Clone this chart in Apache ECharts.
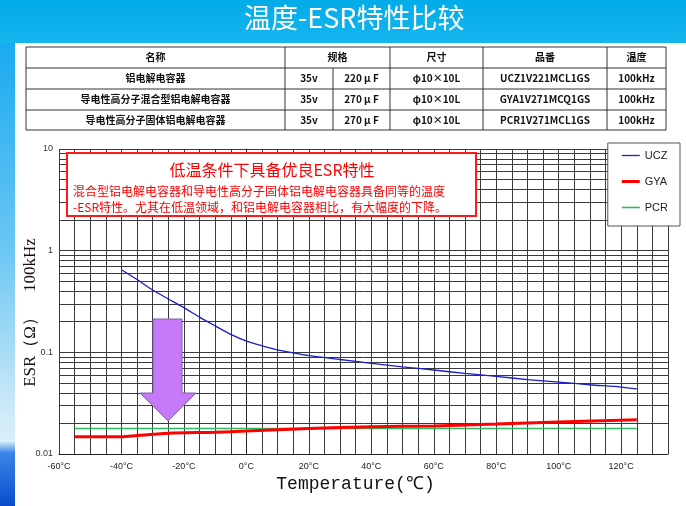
<!DOCTYPE html>
<html><head><meta charset="utf-8">
<script src="https://cdn.jsdelivr.net/npm/echarts@6/dist/echarts.min.js"></script>
<style>html,body{margin:0;padding:0;background:#fff;}#c{width:686px;height:506px;}</style>
</head><body><div id="c"></div>
<script>
// ---- data ----
const pageTitle = '温度-ESR特性比较';
const tableHeaders = ['名称', '规格', '尺寸', '品番', '温度'];
const tableRows = [
  ['铝电解电容器', '35v', '220 μ F', 'φ10×10L', 'UCZ1V221MCL1GS', '100kHz'],
  ['导电性高分子混合型铝电解电容器', '35v', '270 μ F', 'φ10×10L', 'GYA1V271MCQ1GS', '100kHz'],
  ['导电性高分子固体铝电解电容器', '35v', '270 μ F', 'φ10×10L', 'PCR1V271MCL1GS', '100kHz']
];
const noteTitle = '低温条件下具备优良ESR特性';
const noteLines = [
  '混合型铝电解电容器和导电性高分子固体铝电解电容器具备同等的温度',
  '-ESR特性。尤其在低温领域，和铝电解电容器相比，有大幅度的下降。'
];
const seriesNames = ['UCZ', 'GYA', 'PCR'];
const ucz = [[-40,0.65],[-35,0.52],[-30,0.41],[-25,0.335],[-20,0.275],[-15,0.222],[-10,0.182],[-5,0.15],[0,0.129],[5,0.116],[10,0.106],[15,0.099],[20,0.093],[30,0.085],[40,0.078],[50,0.072],[60,0.067],[70,0.062],[80,0.058],[90,0.054],[100,0.051],[110,0.048],[120,0.0455],[125,0.0437]];
const gya = [[-55,0.0148],[-40,0.0148],[-35,0.0152],[-30,0.0156],[-25,0.016],[-10,0.0164],[0,0.0168],[20,0.0178],[40,0.0185],[60,0.0189],[80,0.0197],[100,0.0206],[125,0.0217]];
const pcr = [[-55,0.0178],[0,0.0178],[60,0.0178],[125,0.0178]];
const xTickLabelUnit = '°C';
const yMinorValues = [0.02,0.03,0.04,0.05,0.06,0.07,0.08,0.09,0.2,0.3,0.4,0.5,0.6,0.7,0.8,0.9,2,3,4,5,6,7,8,9];
const xAxisName = 'Temperature(℃)';
const yAxisName = 'ESR（Ω）　100kHz';

// ---- layout / style ----
const colX = [26, 285, 333, 390, 483, 607, 666];
const rowY = [47, 68, 89, 110, 130];
const headerSpans = [[0,1],[1,3],[3,4],[4,5],[5,6]];
const gridColor = '#3a3a3a';
const tableFont = '"Noto Sans CJK SC", "Liberation Sans", sans-serif';
const lineColors = ['#1c1cd0', '#ff0000', '#33b864'];
const lineWidths = [1.3, 3, 1.6];

const chart = echarts.init(document.getElementById('c'), null, {renderer: 'canvas'});

const g = [];
// background decorations
g.push({type:'rect', z:-100, shape:{x:0,y:0,width:686,height:506}, style:{fill:'#ffffff'}, silent:true});
g.push({type:'rect', z:-99, shape:{x:0,y:0,width:686,height:43}, style:{fill:new echarts.graphic.LinearGradient(0,0,0,1,[{offset:0,color:'#03abe9'},{offset:1,color:'#15b6ee'}])}, silent:true});
g.push({type:'rect', z:-99, shape:{x:0,y:43,width:15,height:463}, style:{fill:new echarts.graphic.LinearGradient(0,0,0,1,[{offset:0,color:'#1aaaf0'},{offset:0.45,color:'#6cc7f3'},{offset:0.8,color:'#cfeaf8'},{offset:0.86,color:'#d9eff9'},{offset:0.885,color:'#3a86e8'},{offset:1,color:'#0a4ccc'}])}, silent:true});

// table
const tl = {stroke:'#333', lineWidth:1};
for (const y of rowY) g.push({type:'line', z:20, shape:{x1:colX[0],y1:y,x2:colX[6],y2:y}, style:tl, silent:true});
for (let i = 0; i < colX.length; i++) {
  const top = (i === 2) ? rowY[1] : rowY[0];
  g.push({type:'line', z:20, shape:{x1:colX[i],y1:top,x2:colX[i],y2:rowY[4]}, style:tl, silent:true});
}
headerSpans.forEach((sp, k) => {
  g.push({type:'text', z:21, style:{text:tableHeaders[k], x:(colX[sp[0]]+colX[sp[1]])/2, y:(rowY[0]+rowY[1])/2, align:'center', verticalAlign:'middle', fill:'#111', font:'bold 10px ' + tableFont}, silent:true});
});
tableRows.forEach((row, r) => {
  row.forEach((cell, c) => {
    g.push({type:'text', z:21, style:{text:cell, x:(colX[c]+colX[c+1])/2, y:(rowY[r+1]+rowY[r+2])/2, align:'center', verticalAlign:'middle', fill:'#111', font:'bold 10px ' + tableFont}, silent:true});
  });
});

// note box
g.push({type:'rect', z:30, shape:{x:67,y:153,width:409,height:63}, style:{fill:'#fff', stroke:'#ff1a1a', lineWidth:2}, silent:true});
g.push({type:'text', z:31, style:{text:noteTitle, x:272, y:170, align:'center', verticalAlign:'middle', fill:'#ff0000', font:'16px "Noto Sans CJK SC", serif'}, silent:true});
noteLines.forEach((t, i) => {
  g.push({type:'text', z:31, style:{text:t, x:73, y:191 + i*16, align:'left', verticalAlign:'middle', fill:'#ff0000', font:'12px "Noto Sans CJK SC", serif'}, silent:true});
});

// arrow
g.push({type:'polygon', z:30, shape:{points:[[153,319],[182,319],[182,393],[196,393],[168,421],[140,393],[153,393]]}, style:{fill:'#c77af7', stroke:'#80609e', lineWidth:1}, silent:true});

const legendIcon = (w) => 'path://M0 0H18V' + w + 'H0Z';

chart.setOption({
  animation: false,
  title: {text: pageTitle, left: 244, top: 4, padding:0, textStyle:{color:'#fff', fontSize:27, fontWeight:'normal', fontFamily:'"Noto Sans CJK SC", sans-serif'}},
  graphic: g,
  legend: {
    orient:'vertical', right:6, top:143,
    data: seriesNames.map((n, i) => ({name:n, icon:legendIcon(lineWidths[i])})),
    backgroundColor:'#fff', borderColor:'#555', borderWidth:1,
    padding:[7,12,13,14], itemGap:15, itemWidth:18, itemHeight:14,
    textStyle:{color:'#222', fontSize:11, fontFamily:'"Liberation Sans", Arial, sans-serif'}, z:40
  },
  grid: {left:59, top:149, width:609, height:305, containLabel:false},
  xAxis: {
    type:'value', min:-60, max:135, interval:5,
    name:xAxisName, nameLocation:'middle', nameGap:21, nameMoveOverlap:false,
    nameTextStyle:{color:'#111', fontSize:18, fontFamily:'"Liberation Mono", monospace', padding:[0,0,0,-16]},
    axisLine:{show:true, onZero:false, lineStyle:{color:'#222', width:1}},
    axisTick:{show:false},
    axisLabel:{color:'#222', fontSize:9, margin:8, fontFamily:'"Liberation Sans", Arial, sans-serif', formatter:(v)=> (v % 20 === 0 && v <= 120) ? (v + xTickLabelUnit) : ''},
    splitLine:{show:true, lineStyle:{color:gridColor, width:1}}
  },
  yAxis: {
    type:'log', logBase:10, min:0.01, max:10,
    name:yAxisName, nameLocation:'middle', nameGap:20, nameRotate:90, nameMoveOverlap:false,
    nameTextStyle:{color:'#111', fontSize:17, fontFamily:'"Liberation Serif", "DejaVu Serif", serif', padding:[0,0,0,-22]},
    axisLine:{show:true, lineStyle:{color:'#222', width:1}},
    axisTick:{show:false},
    axisLabel:{color:'#333', fontSize:9, margin:6, fontFamily:'"Liberation Sans", Arial, sans-serif', formatter:(v)=> String(v)},
    splitLine:{show:true, lineStyle:{color:gridColor, width:1}}
  },
  series: [
    {name:seriesNames[0], type:'line', data:ucz, symbol:'none', smooth:0.3, lineStyle:{color:lineColors[0], width:lineWidths[0]}, itemStyle:{color:lineColors[0]}, z:5},
    {name:seriesNames[1], type:'line', data:gya, symbol:'none', smooth:0.3, lineStyle:{color:lineColors[1], width:lineWidths[1]}, itemStyle:{color:lineColors[1]}, z:6},
    {name:seriesNames[2], type:'line', data:pcr, symbol:'none', lineStyle:{color:lineColors[2], width:lineWidths[2]}, itemStyle:{color:lineColors[2]}, z:4,
      markLine:{silent:true, symbol:'none', label:{show:false}, animation:false,
        lineStyle:{color:gridColor, width:1, type:'solid'},
        emphasis:{disabled:true},
        data: yMinorValues.map(v => ({yAxis:v}))}}
  ]
});
</script></body></html>
